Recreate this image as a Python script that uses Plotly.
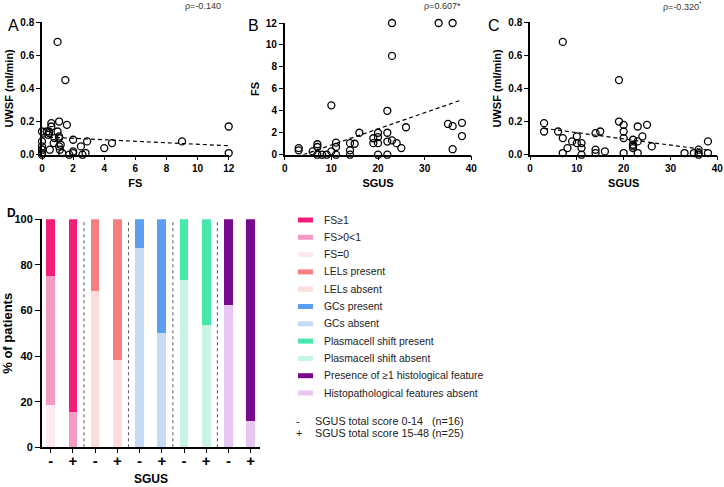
import plotly.graph_objects as go

# ---------------- data ----------------
# Panel A: FS vs UWSF
A_fs = [1.0, 1.5, 0, 0, 0, 0, 0, 0, 0.3, 0.4, 0.45, 0.45, 0.6, 0.6, 0.5, 0.75, 0.8, 1.0,
        1.1, 1.1, 1.1, 1.1, 1.15, 1.2, 1.3, 1.6, 1.75, 2.0, 2.0, 2.0, 2.5, 2.6, 2.8, 2.9,
        4.0, 4.5, 9.0, 12.0, 12.0]
A_uwsf = [0.68, 0.45, 0.14, 0.08, 0.05, 0.03, 0.01, 0.0, 0.14, 0.12, 0.14, 0.13, 0.19, 0.17,
          0.03, 0.07, 0.10, 0.14, 0.20, 0.11, 0.10, 0.05, 0.03, 0.06, 0.01, 0.18, 0.0, 0.09,
          0.02, 0.01, 0.05, 0.0, 0.01, 0.08, 0.04, 0.07, 0.08, 0.17, 0.01]
A_trend_x = [0, 12]
A_trend_y = [0.108, 0.054]

# Panel B: SGUS vs FS
B_sgus = [3, 3, 6, 7, 7, 7, 8, 9, 10, 10, 11, 11, 11, 14, 14, 14, 15, 16, 19, 19, 20, 20, 20,
          20, 22, 22, 22, 22, 23, 23, 23, 24, 25, 26, 33, 35, 36, 36, 36, 38, 38]
B_fs = [0.6, 0.4, 0.3, 0.95, 0.7, 0.0, 0.0, 0.0, 0.3, 4.5, 0.7, 1.1, 0.0, 1.05, 0.4, 0.0, 1.0,
        2.0, 1.5, 1.05, 2.0, 1.6, 1.05, 0.0, 4.0, 2.0, 1.2, 0.0, 12.0, 9.0, 1.3, 1.05, 0.6,
        2.5, 12.0, 2.8, 12.0, 2.6, 0.5, 2.9, 1.7]
B_trend_x = [4, 38]
B_trend_y = [0.0, 5.0]

# Panel C: SGUS vs UWSF
C_sgus = [3, 3, 6, 7, 7, 7, 8, 9, 10, 10, 11, 11, 11, 14, 14, 14, 15, 16, 19, 19, 20, 20, 20,
          20, 22, 22, 22, 22, 23, 23, 23, 24, 25, 26, 33, 35, 36, 36, 36, 38, 38]
C_uwsf = [0.19, 0.14, 0.14, 0.68, 0.10, 0.01, 0.04, 0.08, 0.11, 0.07, 0.07, 0.04, 0.0, 0.13,
          0.03, 0.01, 0.14, 0.02, 0.45, 0.20, 0.18, 0.14, 0.10, 0.01, 0.09, 0.06, 0.05, 0.04,
          0.17, 0.08, 0.01, 0.11, 0.18, 0.05, 0.01, 0.01, 0.03, 0.01, 0.0, 0.08, 0.01]
C_trend_x = [3, 38]
C_trend_y = [0.159, 0.028]

rho_labels = ["ρ=-0.140", "ρ=0.607*", "ρ=-0.320<sup>*</sup>"]

# Panel D: stacked percentages, pairs (SGUS -, SGUS +)
tick_labels = ["-", "+"] * 5
FS_0 = [18.75, 0.0]
FS_mid = [56.25, 15.5]
FS_ge1 = [25.0, 84.5]
LELs_absent = [68.75, 38.5]
LELs_present = [31.25, 61.5]
GCs_absent = [87.5, 50.0]
GCs_present = [12.5, 50.0]
PC_absent = [73.3, 53.8]
PC_present = [26.7, 46.2]
Histo_absent = [62.5, 11.5]
Histo_present = [37.5, 88.5]

legend_names = ["FS≥1", "FS>0<1", "FS=0", "LELs present", "LELs absent", "GCs present",
                "GCs absent", "Plasmacell shift present", "Plasmacell shift absent",
                "Presence of ≥1 histological feature", "Histopathological features absent"]
legend_colors = ["#F21D78", "#F59BC3", "#FCE8F2", "#F87F7F", "#FDDCDB", "#5B9EF2",
                 "#C5DAF4", "#45E8A8", "#C8F5E3", "#780A8E", "#E8C6F2"]
group_notes = [("-", "SGUS total score 0-14   (n=16)"), ("+", "SGUS total score 15-48 (n=25)")]

# ---------------- figure ----------------
W, H = 724, 487
FONT = "Arial, Liberation Sans, sans-serif"

def px_x(p):
    return p / W

def px_y(p):
    return 1 - p / H

fig = go.Figure()

marker = dict(symbol="circle-open", size=7, color="black", line=dict(width=1.3, color="black"))
for i, (xs, ys, tx, ty) in enumerate([(A_fs, A_uwsf, A_trend_x, A_trend_y),
                                       (B_sgus, B_fs, B_trend_x, B_trend_y),
                                       (C_sgus, C_uwsf, C_trend_x, C_trend_y)]):
    sfx = "" if i == 0 else str(i + 1)
    fig.add_trace(go.Scatter(x=tx, y=ty, mode="lines", xaxis="x" + sfx, yaxis="y" + sfx,
                             line=dict(color="black", width=1.2, dash="4px,3px"),
                             showlegend=False, cliponaxis=False))
    fig.add_trace(go.Scatter(x=xs, y=ys, mode="markers", xaxis="x" + sfx, yaxis="y" + sfx,
                             marker=marker, showlegend=False, cliponaxis=False))

# Stacked bars
stacks = [
    [(FS_0, legend_colors[2]), (FS_mid, legend_colors[1]), (FS_ge1, legend_colors[0])],
    [(LELs_absent, legend_colors[4]), (LELs_present, legend_colors[3])],
    [(GCs_absent, legend_colors[6]), (GCs_present, legend_colors[5])],
    [(PC_absent, legend_colors[8]), (PC_present, legend_colors[7])],
    [(Histo_absent, legend_colors[10]), (Histo_present, legend_colors[9])],
]
for g, layers in enumerate(stacks):
    for vals, col in layers:
        fig.add_trace(go.Bar(x=[2 * g, 2 * g + 1], y=vals, width=0.39, marker=dict(color=col, line=dict(width=0)),
                             xaxis="x4", yaxis="y4", showlegend=False))

shapes = []
# dotted separators between groups
for g in range(len(stacks) - 1):
    xm = 2 * g + 1.5
    shapes.append(dict(type="line", xref="x4", yref="y4", x0=xm, x1=xm, y0=0, y1=100,
                       line=dict(color="#555555", width=1, dash="dot")))

annotations = []
# legend (custom)
leg_y0 = 220
leg_dy = 17.3
for k, (name, col) in enumerate(zip(legend_names, legend_colors)):
    yc = leg_y0 + k * leg_dy
    shapes.append(dict(type="rect", xref="paper", yref="paper",
                       x0=px_x(298), x1=px_x(313), y0=px_y(yc + 2.5), y1=px_y(yc - 2.5),
                       fillcolor=col, line=dict(width=0)))
    annotations.append(dict(text=name, xref="paper", yref="paper", x=px_x(322), y=px_y(yc),
                            xanchor="left", yanchor="middle", showarrow=False,
                            font=dict(family=FONT, size=10.4, color="#222")))
for k, (sym, txt) in enumerate(group_notes):
    yc = 421 + k * 11.5
    annotations.append(dict(text=sym, xref="paper", yref="paper", x=px_x(294), y=px_y(yc),
                            xanchor="left", yanchor="middle", showarrow=False,
                            font=dict(family=FONT, size=11, color="#222")))
    annotations.append(dict(text=txt, xref="paper", yref="paper", x=px_x(313), y=px_y(yc),
                            xanchor="left", yanchor="middle", showarrow=False,
                            font=dict(family=FONT, size=10.8, color="#222")))

# panel letters
for letter, xp, yp, bold in [("A", 6, 25, False), ("B", 246, 25, False), ("C", 486, 25, False), ("D", 5, 213, True)]:
    annotations.append(dict(text=("<b>%s</b>" % letter) if bold else letter, xref="paper", yref="paper",
                            x=px_x(xp), y=px_y(yp), xanchor="left", yanchor="middle", showarrow=False,
                            font=dict(family=FONT, size=16 if not bold else 12, color="black")))
# rho labels
for txt, xp in zip(rho_labels, [223, 463, 704]):
    annotations.append(dict(text=txt, xref="paper", yref="paper", x=px_x(xp), y=px_y(6),
                            xanchor="right", yanchor="middle", showarrow=False,
                            font=dict(family=FONT, size=9, color="#333")))
# D x-axis title
annotations.append(dict(text="<b>SGUS</b>", xref="paper", yref="paper", x=px_x(151), y=px_y(479),
                        xanchor="center", yanchor="middle", showarrow=False,
                        font=dict(family=FONT, size=12, color="black")))

tickfont = dict(family=FONT, size=10, color="black", weight="bold")
titlefont = dict(family=FONT, size=11, color="black", weight="bold")

def ax(domain, rng, dtick, title, fmt=None, anchor=None, standoff=None):
    d = dict(domain=domain, range=rng, dtick=dtick, tick0=0, showline=True, linecolor="black",
             linewidth=1.5, ticks="outside", ticklen=4, tickwidth=1.2, tickcolor="black",
             showgrid=False, zeroline=False, tickfont=tickfont,
             title=dict(text="<b>%s</b>" % title, font=titlefont), fixedrange=True)
    if fmt:
        d["tickformat"] = fmt
    if anchor:
        d["anchor"] = anchor
    if standoff is not None:
        d["title"]["standoff"] = standoff
    return d

yA = [px_y(154.7), px_y(22)]
yB = [px_y(154.7), px_y(23)]
fig.update_layout(
    width=W, height=H, margin=dict(l=0, r=0, t=0, b=0, autoexpand=False),
    paper_bgcolor="white", plot_bgcolor="white", showlegend=False, barmode="stack",
    font=dict(family=FONT),
    xaxis=ax([px_x(42), px_x(228.7)], [0, 12], 2, "FS", anchor="y", standoff=6),
    yaxis=ax(yA, [0, 0.8], 0.2, "UWSF (ml/min)", fmt=".1f", anchor="x", standoff=4),
    xaxis2=ax([px_x(284.7), px_x(471.3)], [0, 40], 10, "SGUS", anchor="y2", standoff=6),
    yaxis2=ax(yB, [0, 12], 2, "FS", anchor="x2", standoff=4),
    xaxis3=ax([px_x(530), px_x(717.3)], [0, 40], 10, "SGUS", anchor="y3", standoff=6),
    yaxis3=ax(yA, [0, 0.8], 0.2, "UWSF (ml/min)", fmt=".1f", anchor="x3", standoff=4),
    xaxis4=dict(domain=[px_x(41.7), px_x(260)], range=[-0.405, 9.42], anchor="y4",
                tickmode="array", tickvals=list(range(10)), ticktext=tick_labels,
                showline=True, linecolor="black", linewidth=1.5, ticks="outside", ticklen=4,
                tickwidth=1.2, tickcolor="black", showgrid=False, zeroline=False,
                tickfont=dict(family=FONT, size=15, color="black", weight="bold"),
                ticklabelstandoff=-5, fixedrange=True),
    yaxis4=dict(domain=[px_y(447.3), px_y(219.3)], range=[0, 100], anchor="x4", dtick=20,
                showline=True, linecolor="black", linewidth=1.5, ticks="outside", ticklen=5,
                tickwidth=1.2, tickcolor="black", showgrid=False, zeroline=False,
                tickfont=dict(family=FONT, size=11, color="black", weight="bold"),
                title=dict(text="<b>% of patients</b>", font=dict(family=FONT, size=13, color="black"), standoff=8),
                fixedrange=True),
    shapes=shapes, annotations=annotations,
)

fig.write_html("out.html", config={"displayModeBar": False},
               post_script="document.body.style.margin='0px';document.body.style.overflow='hidden';")
